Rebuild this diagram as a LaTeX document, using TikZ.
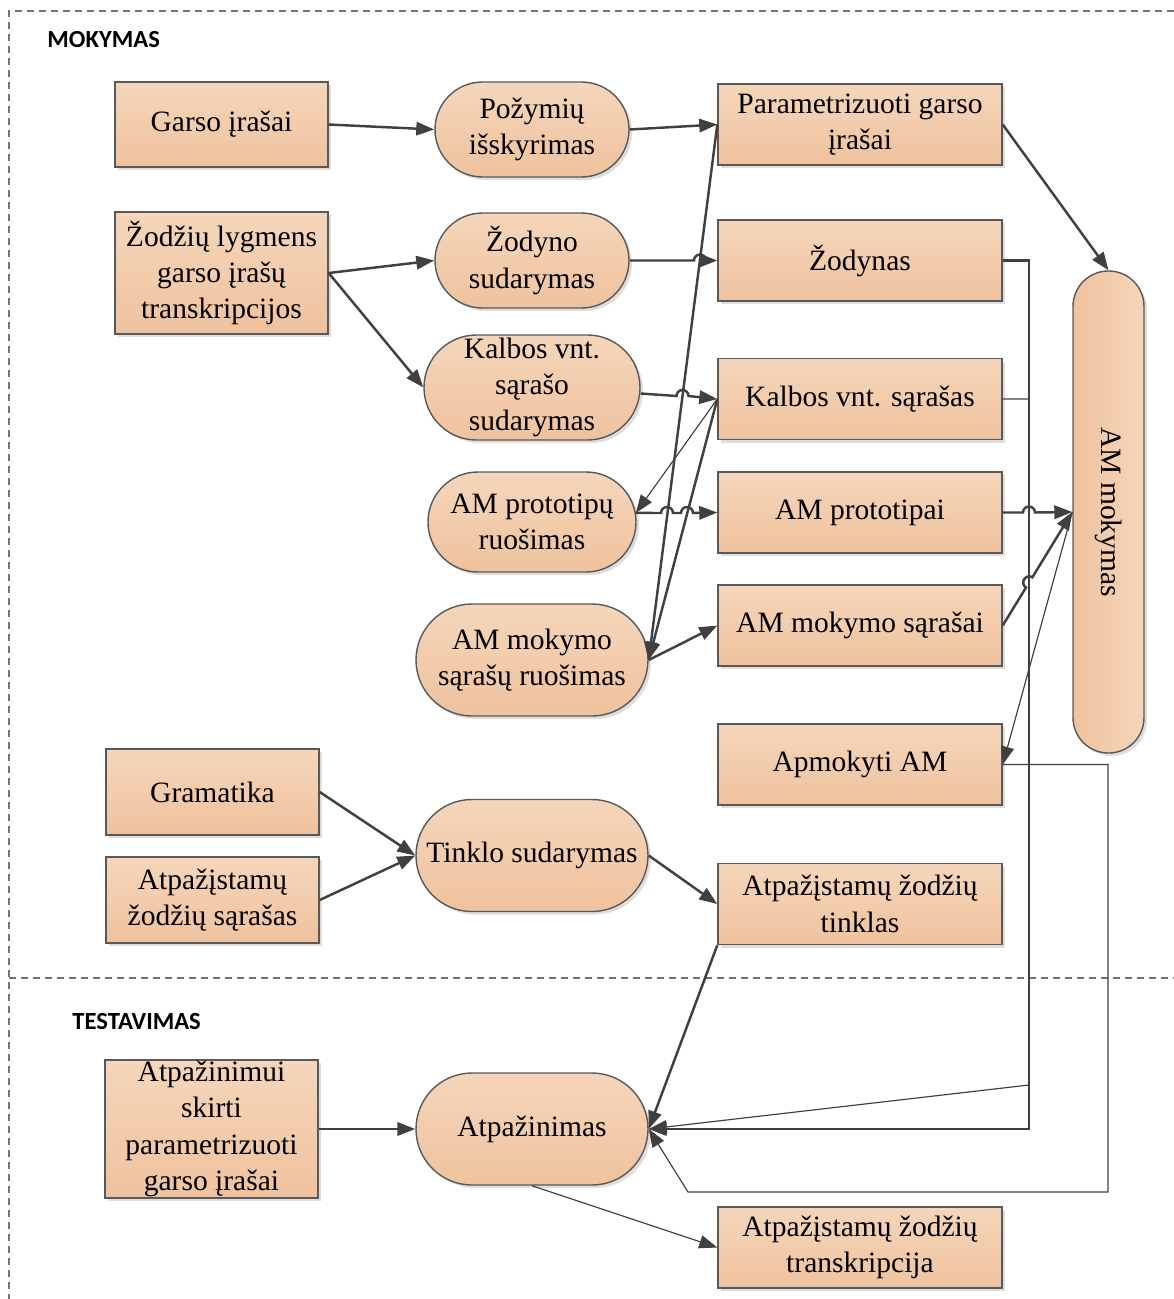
\documentclass[tikz,border=0pt]{standalone}
\usepackage{fontspec}
\setmainfont{Liberation Serif}
\newfontfamily\headfont{Carlito}
\usetikzlibrary{arrows.meta}
\usetikzlibrary{calc}
\usetikzlibrary{shadows}
\usetikzlibrary{shapes.misc}

\definecolor{boxtop}{HTML}{F5D6BB}
\definecolor{boxbot}{HTML}{EFC29E}
\definecolor{edge}{HTML}{404040}

\tikzset{
  base/.style={draw=black!65, line width=0.6pt, inner sep=0pt, align=center,
    font=\fontsize{12.6}{15.5}\selectfont,
    drop shadow={shadow xshift=0.045cm, shadow yshift=-0.045cm, fill=black!13, opacity=1}},
  leftbox/.style={base, rectangle, top color=boxtop, bottom color=boxbot,
    minimum width=3.195cm, minimum height=#1},
  rightbox/.style={base, rectangle, top color=boxtop, bottom color=boxbot,
    minimum width=4.26cm, minimum height=1.215cm},
  stad/.style 2 args={base, rounded rectangle, top color=boxtop, bottom color=boxbot,
    minimum width=#1, minimum height=#2},
  head/.style={anchor=west, inner sep=0pt, font=\headfont\bfseries\fontsize{10.5}{12}\selectfont},
  frame/.style={draw=black!55, line width=0.5pt, dash pattern=on 0.105cm off 0.075cm},
  flow/.style={draw=edge, line width=1.05pt, -{Triangle[length=0.27cm, width=0.2cm]}},
  thin flow/.style={flow, line width=0.5pt}
}

\begin{document}
\begin{tikzpicture}[x=0.015cm, y=-0.015cm]
  \useasboundingbox (0,0) rectangle (1174,1299);

  \draw[frame] (1174,11) -- (9,11) -- (9,1299);
  \draw[frame] (9,978) -- (1174,978);
  \node[head] (mok) at (47,40) {MOKYMAS};
  \node[head] (test) at (72,1022) {TESTAVIMAS};

  % left column
  \node[leftbox=1.275cm] (garso) at (221.5,124.5) {Garso įrašai};
  \node[leftbox=1.83cm] (zodziu) at (221.5,273) {Žodžių lygmens\\garso įrašų\\transkripcijos};
  \node[leftbox=1.29cm] (gram) at (212.5,792) {Gramatika};
  \node[leftbox=1.29cm] (atpsar) at (212.5,900) {Atpažįstamų\\žodžių sąrašas};
  \node[leftbox=2.07cm] (atpskirti) at (211.5,1129) {Atpažinimui\\skirti\\parametrizuoti\\garso įrašai};

  % middle column
  \node[stad={2.91cm}{1.425cm}] (pozym) at (532,129.5) {Požymių\\išskyrimas};
  \node[stad={2.91cm}{1.425cm}] (zodsud) at (532,260.5) {Žodyno\\sudarymas};
  \node[stad={3.24cm}{1.575cm}] (kalsud) at (532,387.5) {Kalbos vnt.\\sąrašo\\sudarymas};
  \node[stad={3.12cm}{1.5cm}] (amprr) at (532,522) {AM prototipų\\ruošimas};
  \node[stad={3.48cm}{1.68cm}] (amsr) at (532,660) {AM mokymo\\sąrašų ruošimas};
  \node[stad={3.48cm}{1.68cm}] (tinklo) at (532,855.5) {Tinklo sudarymas};
  \node[stad={3.48cm}{1.68cm}] (atp) at (532,1129) {Atpažinimas};

  % right column
  \node[rightbox] (param) at (860,124.5) {Parametrizuoti garso\\įrašai};
  \node[rightbox] (zodynas) at (860,260.5) {Žodynas};
  \node[rightbox] (kalvnt) at (860,399) {Kalbos vnt. sąrašas};
  \node[rightbox] (ampt) at (860,512.5) {AM prototipai};
  \node[rightbox] (amsar) at (860,625.5) {AM mokymo sąrašai};
  \node[rightbox] (apm) at (860,764.5) {Apmokyti AM};
  \node[rightbox] (tinklas) at (860,904) {Atpažįstamų žodžių\\tinklas};
  \node[rightbox] (transkr) at (860,1247.5) {Atpažįstamų žodžių\\transkripcija};

  \node[base, rectangle, rounded corners=0.53cm, left color=boxbot, right color=boxtop,
    minimum width=1.065cm, minimum height=7.23cm] (ammok) at (1108.5,512) {\rotatebox{-90}{AM mokymas}};

  % training
  \draw[flow] (garso.east) -- (pozym.west);
  \draw[flow] (pozym.east) -- (param.west);
  \draw[flow] (zodziu.east) -- (zodsud.west);
  \draw[flow] (zodziu.east) -- (kalsud.west);
  \draw[flow] (param.west) -- (amsr.east);
  \draw[thin flow] (kalvnt.west) -- (amprr.5);
  \draw[flow] (kalvnt.west) -- (amsr.east);
  \draw[flow] (zodsud.east) -- (694,260.5) arc[start angle=180, end angle=0, radius=0.09cm] -- (zodynas.west);
  \draw[flow] ([yshift=-0.09cm]kalsud.east) -- (676.5,396) arc[start angle=180, end angle=0, radius=0.09cm] -- (kalvnt.west);
  \draw[flow] (amprr.5) -- (661,513) arc[start angle=180, end angle=0, radius=0.09cm]
    -- (681,513) arc[start angle=180, end angle=0, radius=0.09cm] -- (ampt.west);
  \draw[flow] (amsr.east) -- (amsar.west);
  \draw[flow] (param.east) -- (ammok.north);

  % to recognition
  \draw[thin flow] (kalvnt.east) -- (1029,399) -- (1029,1085) -- (atp.east);
  \draw[flow] (zodynas.east) -- (1029,260.5) -- (1029,1129) -- (atp.east);
  \draw[flow] (ampt.east) -- (1023,512.5) arc[start angle=180, end angle=0, radius=0.09cm] -- (ammok.west);
  \draw[flow] (amsar.east) -- ($(amsar.east)!0.38!(ammok.west)!0.09cm!(amsar.east)$)
    arc[start angle=238, end angle=58, radius=0.09cm] -- (ammok.west);
  \draw[thin flow] (ammok.west) -- (apm.east);
  \draw[thin flow] (apm.east) -- (1108,764.5) -- (1108,1192) -- (688,1192) -- (atp.east);

  % network
  \draw[flow] (gram.east) -- (tinklo.west);
  \draw[flow] (atpsar.east) -- (tinklo.west);
  \draw[flow] (tinklo.east) -- (tinklas.west);
  \draw[flow] (tinklas.south west) -- (atp.east);

  % testing
  \draw[flow] (atpskirti.east) -- (atp.west);
  \draw[thin flow] (atp.south) -- (transkr.west);
\end{tikzpicture}
\end{document}
